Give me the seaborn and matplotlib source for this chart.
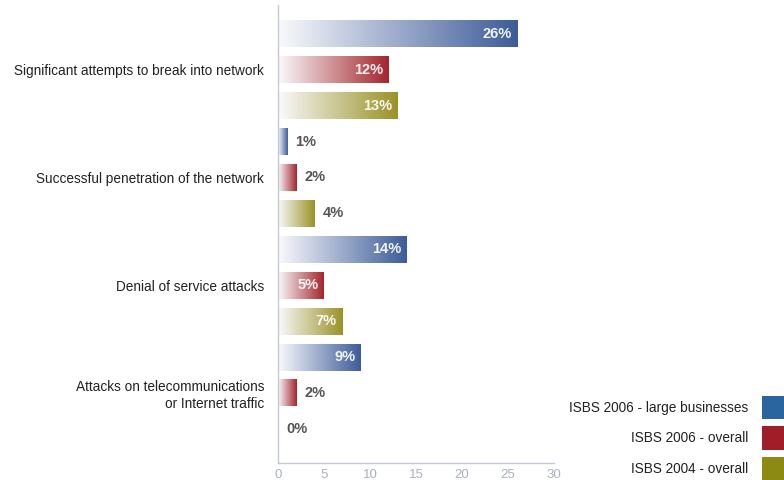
import numpy as np
import pandas as pd
import matplotlib
matplotlib.use("Agg")
import matplotlib.pyplot as plt
from matplotlib.colors import LinearSegmentedColormap, to_rgb
from matplotlib.patches import Patch
import seaborn as sns

categories = [
    "Significant attempts to break into network",
    "Successful penetration of the network",
    "Denial of service attacks",
    "Attacks on telecommunications\nor Internet traffic",
]
series = ["ISBS 2006 - large businesses", "ISBS 2006 - overall", "ISBS 2004 - overall"]
large_2006 = [26, 1, 14, 9]
overall_2006 = [12, 2, 5, 2]
overall_2004 = [13, 4, 7, 0]
xticks = [0, 5, 10, 15, 20, 25, 30]

bar_colors = ["#3d5c98", "#a3262c", "#9a9226"]
legend_colors = ["#2b65a0", "#a01e28", "#8c8a12"]

rows = []
for s, vals in zip(series, [large_2006, overall_2006, overall_2004]):
    for c, v in zip(categories, vals):
        rows.append({"category": c, "series": s, "value": v})
df = pd.DataFrame(rows)

sns.set_theme(style="white")
plt.rcParams["font.family"] = ["Liberation Sans", "DejaVu Sans"]

fig = plt.figure(figsize=(7.84, 4.8), dpi=100)
ax = fig.add_axes([278 / 784, 1 - 463 / 480, (554 - 278) / 784, 458 / 480])

sns.barplot(data=df, y="category", x="value", hue="series", orient="h",
            palette=bar_colors, width=1.0, gap=0.25, dodge=True,
            legend=False, ax=ax, errorbar=None, linewidth=0)

ax.set_xlim(0, 30)
ax.set_ylim(3.65, -0.60)

# gradient fill for each bar
for container, col in zip(ax.containers, bar_colors):
    rgb = np.array(to_rgb(col))
    cmap = LinearSegmentedColormap.from_list("g", [(0.98, 0.98, 0.99), tuple(rgb)])
    for patch, val in zip(container.patches, container.datavalues):
        x0 = patch.get_x(); w = patch.get_width()
        y0 = patch.get_y(); h = patch.get_height()
        cy = y0 + h / 2
        if w > 0:
            grad = np.linspace(0, 1, 256).reshape(1, -1)
            im = ax.imshow(grad, cmap=cmap, aspect="auto",
                           extent=[x0, x0 + w, y0 + h, y0], zorder=2,
                           interpolation="bicubic")
            im.set_clip_path(patch)
        patch.set_facecolor("none")
        if val >= 5:
            ax.text(x0 + w - 0.6, cy, f"{int(val)}%", ha="right", va="center",
                    color="white", fontsize=10.5, fontweight="semibold", alpha=0.92, zorder=3)
        else:
            ax.text(x0 + w + 0.9, cy, f"{int(val)}%", ha="left", va="center",
                    color="#555555", fontsize=10.5, fontweight="semibold", zorder=3)

ax.set_xlim(0, 30)
ax.set_ylim(3.65, -0.60)

ax.set_xlabel("")
ax.set_ylabel("")
ax.set_xticks(xticks)
ax.set_xticklabels([str(t) for t in xticks], color="#aab0bf", fontsize=9.5)
ax.tick_params(axis="x", direction="in", length=5, color="#b8bccb", width=0.8, pad=4)
ax.tick_params(axis="y", length=0, labelsize=9.8, labelcolor="#222222", pad=10)
for sp in ["top", "right"]:
    ax.spines[sp].set_visible(False)
for sp in ["left", "bottom"]:
    ax.spines[sp].set_color("#c5c8d6")
    ax.spines[sp].set_linewidth(1.0)
ax.grid(False)

handles = [Patch(facecolor=c, edgecolor="none") for c in legend_colors]
leg = fig.legend(handles, series, loc="lower right", bbox_to_anchor=(1.026, -0.026),
                 markerfirst=False, frameon=False, fontsize=9.8,
                 handlelength=2.2, handleheight=2.3, labelspacing=0.5,
                 handletextpad=1.0)
for t in leg.get_texts():
    t.set_color("#222222")

fig.savefig("out.png", dpi=100)
